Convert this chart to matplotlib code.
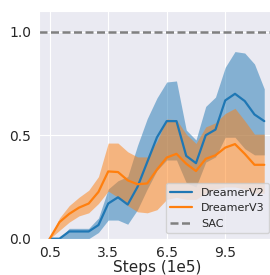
import matplotlib
matplotlib.use("Agg")
import matplotlib.pyplot as plt
import seaborn as sns
import numpy as np

sns.set_style("darkgrid")
plt.rcParams['font.family'] = ['DejaVu Sans']

steps = [0.5, 1.0, 1.5, 2.0, 2.5, 3.0, 3.5, 4.0, 4.5, 5.0, 5.5, 6.0,
         6.5, 7.0, 7.5, 8.0, 8.5, 9.0, 9.5, 10.0, 10.5, 11.0, 11.5]

v2_mean = [0.0, 0.0, 0.035, 0.035, 0.035, 0.066, 0.17, 0.2, 0.165, 0.25, 0.37, 0.49,
           0.568, 0.568, 0.40, 0.365, 0.50, 0.527, 0.668, 0.70, 0.665, 0.60, 0.568]
v2_low = [0.0, 0.0, 0.0, 0.0, 0.0, 0.03, 0.09, 0.09, 0.07, 0.14, 0.24, 0.33,
          0.38, 0.38, 0.27, 0.25, 0.37, 0.395, 0.49, 0.49, 0.435, 0.405, 0.405]
v2_high = [0.0, 0.0, 0.05, 0.05, 0.05, 0.10, 0.24, 0.28, 0.30, 0.45, 0.58, 0.68,
           0.757, 0.762, 0.525, 0.477, 0.639, 0.684, 0.828, 0.904, 0.897, 0.844, 0.724]

v3_mean = [0.0, 0.08, 0.12, 0.15, 0.17, 0.226, 0.325, 0.322, 0.282, 0.263, 0.267, 0.334,
           0.392, 0.41, 0.362, 0.327, 0.386, 0.403, 0.44, 0.457, 0.41, 0.357, 0.357]
v3_low = [0.0, 0.04, 0.08, 0.11, 0.125, 0.17, 0.23, 0.2, 0.16, 0.13, 0.125, 0.14,
          0.19, 0.2, 0.19, 0.19, 0.22, 0.24, 0.25, 0.25, 0.24, 0.22, 0.22]
v3_high = [0.0, 0.10, 0.16, 0.20, 0.234, 0.30, 0.462, 0.462, 0.42, 0.395, 0.395, 0.47,
           0.578, 0.575, 0.505, 0.46, 0.54, 0.56, 0.605, 0.63, 0.57, 0.505, 0.505]

sac_value = 1.0

xticks = [0.5, 3.5, 6.5, 9.5]
yticks = [0.0, 0.5, 1.0]

blue = '#1f77b4'
orange = '#ff7f0e'

fig = plt.figure(figsize=(2.7, 2.75), dpi=100)
ax = fig.add_axes([0.1444, 0.132, 0.874, 0.828])

ax.fill_between(steps, v2_low, v2_high, color=blue, alpha=0.5, linewidth=0)
ax.fill_between(steps, v3_low, v3_high, color=orange, alpha=0.5, linewidth=0)
ax.plot(steps, v2_mean, color=blue, lw=1.6, label='DreamerV2')
ax.plot(steps, v3_mean, color=orange, lw=1.6, label='DreamerV3')
ax.axhline(sac_value, color='gray', lw=1.8, dashes=(3.2, 1.4), label='SAC')

ax.set_xlim(-0.05, 12.05)
ax.set_ylim(0.0, 1.1)
ax.set_xticks(xticks)
ax.set_xticklabels([str(t) for t in xticks])
ax.set_yticks(yticks)
ax.tick_params(axis='both', labelsize=10, pad=2)
ax.set_xlabel('Steps (1e5)', fontsize=11, labelpad=0)

ax.legend(loc='lower right', fontsize=8, framealpha=0.8)

fig.savefig('out.png', dpi=100)
